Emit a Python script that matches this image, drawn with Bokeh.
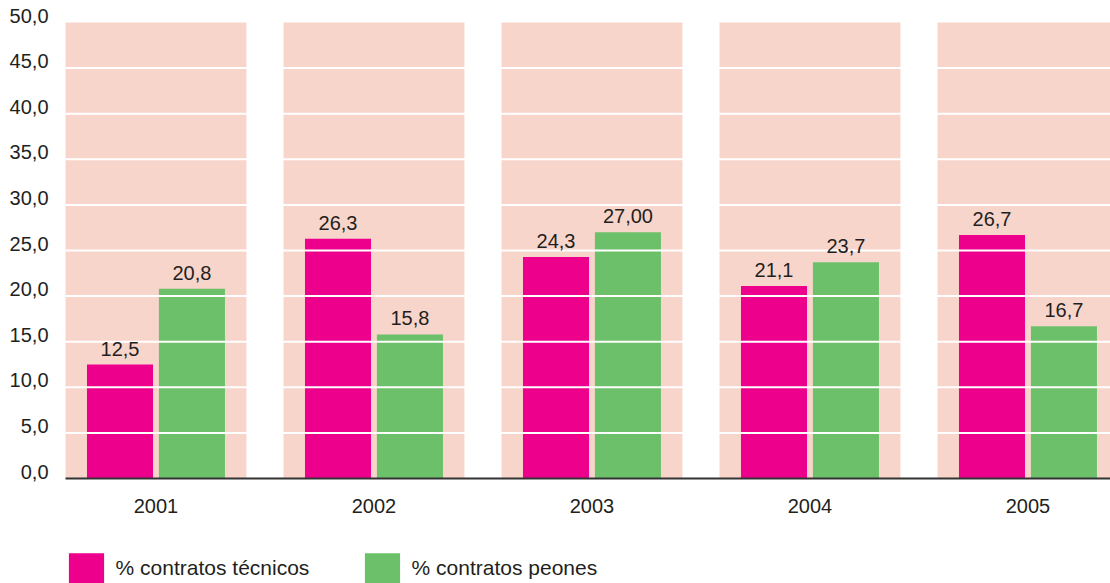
from bokeh.plotting import figure
from bokeh.models import Range1d, Legend, LegendItem, ColumnDataSource
from bokeh.core.properties import value
from bokeh.embed import file_html
from bokeh.resources import INLINE

# Data
years = ["2001", "2002", "2003", "2004", "2005"]
tecnicos = [12.5, 26.3, 24.3, 21.1, 26.7]
peones = [20.8, 15.8, 27.0, 23.7, 16.7]
tecnicos_labels = ["12,5", "26,3", "24,3", "21,1", "26,7"]
peones_labels = ["20,8", "15,8", "27,00", "23,7", "16,7"]
y_ticks = [0, 5, 10, 15, 20, 25, 30, 35, 40, 45, 50]
y_tick_labels = ["0,0", "5,0", "10,0", "15,0", "20,0", "25,0", "30,0", "35,0", "40,0", "45,0", "50,0"]

FONT = "Liberation Sans"
TEXT = "#231F20"
MAGENTA = "#EC008C"
GREEN = "#6CC06A"
BAND = "#F8D5CB"

xs = list(range(len(years)))
off = 0.165      # bar offset from the year centre
bw = 0.303       # bar width
band_w = 0.83    # width of the shaded band behind each year
y_max = 50

# scale: one year slot is 218 px wide, 50 units are 456 px tall
px_per_x = 218
px_per_y = 456 / y_max
plot_left = -band_w / 2          # left edge of the first band
x_start = plot_left - 65 / px_per_x
x_end = x_start + 1110 / px_per_x

# the frame covers the whole canvas; labels and legend are drawn inside it
p = figure(width=1110, height=583, output_backend="svg", toolbar_location=None,
           x_range=Range1d(x_start, x_end),
           y_range=Range1d(-105 / px_per_y, 478 / px_per_y),
           x_axis_location=None, y_axis_location=None,
           min_border=0)
p.outline_line_color = None
p.background_fill_color = "white"
p.grid.grid_line_color = None

# background band per year
p.vbar(x=xs, top=[y_max] * len(xs), bottom=0, width=band_w, fill_color=BAND, line_color=None)

src_t = ColumnDataSource(dict(x=[x - off for x in xs], top=tecnicos, lab=tecnicos_labels))
src_p = ColumnDataSource(dict(x=[x + off for x in xs], top=peones, lab=peones_labels))

r_t = p.vbar(x="x", top="top", bottom=0, width=bw, source=src_t, fill_color=MAGENTA, line_color=None)
r_p = p.vbar(x="x", top="top", bottom=0, width=bw, source=src_p, fill_color=GREEN, line_color=None)

# white gridlines across bands and bars
grid_ticks = y_ticks[1:-1]
p.segment(x0=[plot_left] * len(grid_ticks), y0=grid_ticks,
          x1=[x_end] * len(grid_ticks), y1=grid_ticks,
          line_color="white", line_width=2)

# value labels above the bars
for src in (src_t, src_p):
    p.text(x="x", y="top", text="lab", source=src, y_offset=-9,
           text_align="center", text_baseline="bottom",
           text_font=value(FONT), text_font_size="20px", text_color=TEXT)

# year labels under the zero line
p.text(x=xs, y=[0] * len(xs), text=years, y_offset=34,
       text_align="center", text_baseline="bottom",
       text_font=value(FONT), text_font_size="20px", text_color=TEXT)

# value scale labels on the left
p.text(x=[plot_left] * len(y_ticks), y=y_ticks, text=y_tick_labels, x_offset=-17, y_offset=0,
       text_align="right", text_baseline="bottom",
       text_font=value(FONT), text_font_size="20px", text_color=TEXT)

# zero line
p.segment(x0=[plot_left], y0=[0], x1=[x_end], y1=[0], line_color="#333333", line_width=2)

legend = Legend(items=[LegendItem(label="% contratos técnicos", renderers=[r_t]),
                       LegendItem(label="% contratos peones", renderers=[r_p])],
                orientation="horizontal", location=(63.6, -4.2),
                glyph_width=44, glyph_height=38, label_standoff=8, label_width=244,
                spacing=0, padding=0, margin=0, border_line_color=None,
                background_fill_alpha=0, label_text_font=FONT,
                label_text_font_size="21px", label_text_color=TEXT)
p.add_layout(legend, "center")

open("out.html", "w").write(file_html(p, INLINE))
